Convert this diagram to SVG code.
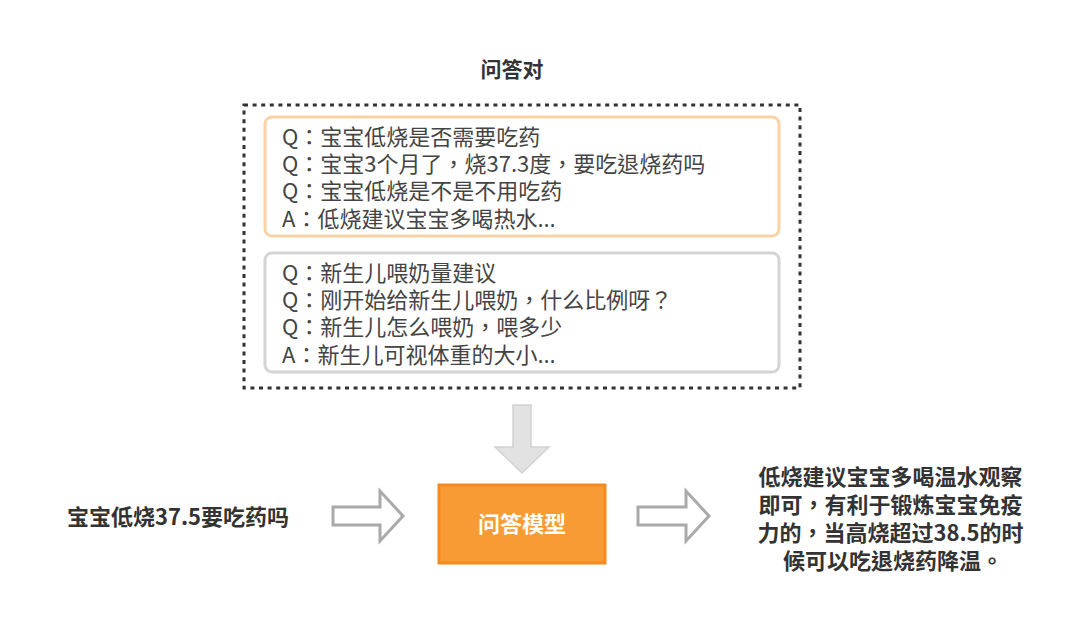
<svg xmlns="http://www.w3.org/2000/svg" width="1080" height="624" viewBox="0 0 1080 624">
<style>
text{font-family:"Noto Sans CJK TC","Noto Sans CJK SC","Noto Sans",sans-serif;}
.q{font-size:22px;fill:#444;}
.b{font-size:22px;font-weight:bold;fill:#333;}
.hollow{fill:#fff;stroke:#aaa;stroke-width:3;stroke-linejoin:miter;}
</style>
<rect width="1080" height="624" fill="#fff"/>
<text x="512" y="77" text-anchor="middle" font-size="21" font-weight="bold" fill="#333">问答对</text>
<g id="qa-pairs">
<rect x="244" y="105" width="556" height="283" fill="none" stroke="#333" stroke-width="3" stroke-dasharray="4 4.6"/>
</g>
<g id="qa-fever">
<rect x="265" y="117" width="514" height="119" rx="7" fill="#fff" stroke="#fbd2a6" stroke-width="3"/>
<text class="q" x="282" y="145">Q：宝宝低烧是否需要吃药</text>
<text class="q" x="282" y="172">Q：宝宝3个月了，烧37.3度，要吃退烧药吗</text>
<text class="q" x="282" y="199">Q：宝宝低烧是不是不用吃药</text>
<text class="q" x="282" y="227">A：低烧建议宝宝多喝热水...</text>
</g>
<g id="qa-feeding">
<rect x="265" y="253" width="514" height="119" rx="7" fill="#fff" stroke="#d4d4d4" stroke-width="3"/>
<text class="q" x="282" y="281">Q：新生儿喂奶量建议</text>
<text class="q" x="282" y="308">Q：刚开始给新生儿喂奶，什么比例呀？</text>
<text class="q" x="282" y="335">Q：新生儿怎么喂奶，喂多少</text>
<text class="q" x="282" y="363">A：新生儿可视体重的大小...</text>
</g>
<g id="input">
<text class="b" x="178" y="525" text-anchor="middle">宝宝低烧37.5要吃药吗</text>
</g>
<g id="model">
<rect x="439" y="485" width="166" height="78" fill="#f99b35" stroke="#f58a1f" stroke-width="3"/>
<text x="522" y="532" text-anchor="middle" font-size="22" font-weight="bold" fill="#fff">问答模型</text>
</g>
<g id="output">
<text class="b" text-anchor="middle">
<tspan x="893" y="485">低烧建议宝宝多喝温水观察</tspan>
<tspan x="893" y="513">即可，有利于锻炼宝宝免疫</tspan>
<tspan x="893" y="541">力的，当高烧超过38.5的时</tspan>
<tspan x="893" y="569">候可以吃退烧药降温。</tspan>
</text>
</g>
<g id="connectors">
<polygon points="513,405 531,405 531,447 549,447 522,473 495,447 513,447" fill="#e2e2e2" stroke="#d2d2d2" stroke-width="1.5"/>
<polygon class="hollow" points="333,507 380,507 380,491 403,516 380,541 380,525 333,525"/>
<polygon class="hollow" points="638,507 686,507 686,491 709,516 686,541 686,525 638,525"/>
</g>
</svg>
